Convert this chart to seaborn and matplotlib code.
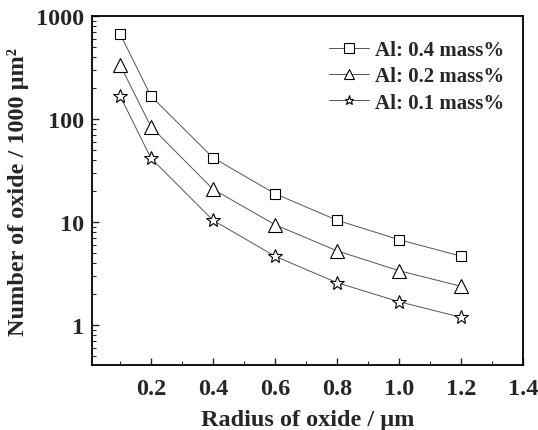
import numpy as np
import pandas as pd
import matplotlib
matplotlib.use("Agg")
import matplotlib.pyplot as plt
import seaborn as sns
from matplotlib.ticker import LogLocator, FixedLocator, MultipleLocator, NullFormatter

# 데이터
radius = [0.1, 0.2, 0.4, 0.6, 0.8, 1.0, 1.2]
al_04 = [680, 168, 42.5, 19, 10.5, 6.8, 4.7]
al_02 = [340, 85, 21, 9.5, 5.3, 3.4, 2.4]
al_01 = [170, 42, 10.5, 4.7, 2.6, 1.7, 1.2]
series_names = ["Al: 0.4 mass%", "Al: 0.2 mass%", "Al: 0.1 mass%"]
x_ticks = [0.2, 0.4, 0.6, 0.8, 1.0, 1.2, 1.4]
y_ticks = [1, 10, 100, 1000]

df = pd.DataFrame({
    "radius": radius * 3,
    "count": al_04 + al_02 + al_01,
    "series": [n for n in series_names for _ in radius],
})

sns.set_style("ticks")
plt.rcParams["font.family"] = ["Liberation Serif", "DejaVu Serif"]
plt.rcParams["font.weight"] = "bold"
plt.rcParams["axes.labelweight"] = "bold"

fig, ax = plt.subplots(figsize=(5.38, 4.31), dpi=100)
sns.lineplot(data=df, x="radius", y="count", hue="series", style="series",
             markers=["s", "^", "*"], dashes=False,
             palette=["#555555"] * 3, linewidth=0.7,
             markersize=7.5, markerfacecolor="white", markeredgecolor="black",
             markeredgewidth=0.8, ax=ax)

# 삼각형, 별 마커는 조금 더 크게
ax.lines[1].set_markersize(9.5)
ax.lines[2].set_markersize(10)

ax.set_yscale("log")
ax.set_xlim(0.01, 1.4)
ax.set_ylim(0.41, 1000)
ax.xaxis.set_major_locator(FixedLocator(x_ticks))
ax.xaxis.set_minor_locator(MultipleLocator(0.1))
ax.yaxis.set_major_locator(FixedLocator(y_ticks))
ax.yaxis.set_minor_locator(LogLocator(base=10, subs=np.arange(2, 10)))
ax.yaxis.set_minor_formatter(NullFormatter())
ax.set_yticklabels([str(v) for v in y_ticks])
ax.set_xticklabels([f"{v:.1f}" for v in x_ticks])

ax.tick_params(which="both", direction="in", top=False, right=False)
ax.tick_params(which="major", length=5, width=1, labelsize=17.5)
ax.tick_params(axis="x", which="major", pad=9)
ax.tick_params(axis="y", which="major", pad=6)
ax.tick_params(which="minor", length=3, width=0.8)
for s in ax.spines.values():
    s.set_linewidth(1.3)
    s.set_color("black")

ax.set_xlabel("Radius of oxide / μm", fontsize=17.5, fontweight="bold", labelpad=7)
ax.set_ylabel("Number of oxide / 1000 μm²", fontsize=17.5, fontweight="bold", labelpad=5)

handles, labels = ax.get_legend_handles_labels()
ax.legend(handles, labels, loc="upper right", frameon=False,
          prop={"size": 15, "weight": "bold"}, handlelength=1.9,
          handletextpad=0.3, markerscale=0.9,
          bbox_to_anchor=(1.0, 0.985), labelspacing=0.3)

fig.subplots_adjust(left=0.171, right=0.972, top=0.96, bottom=0.15)
fig.savefig("out.png", dpi=100)
